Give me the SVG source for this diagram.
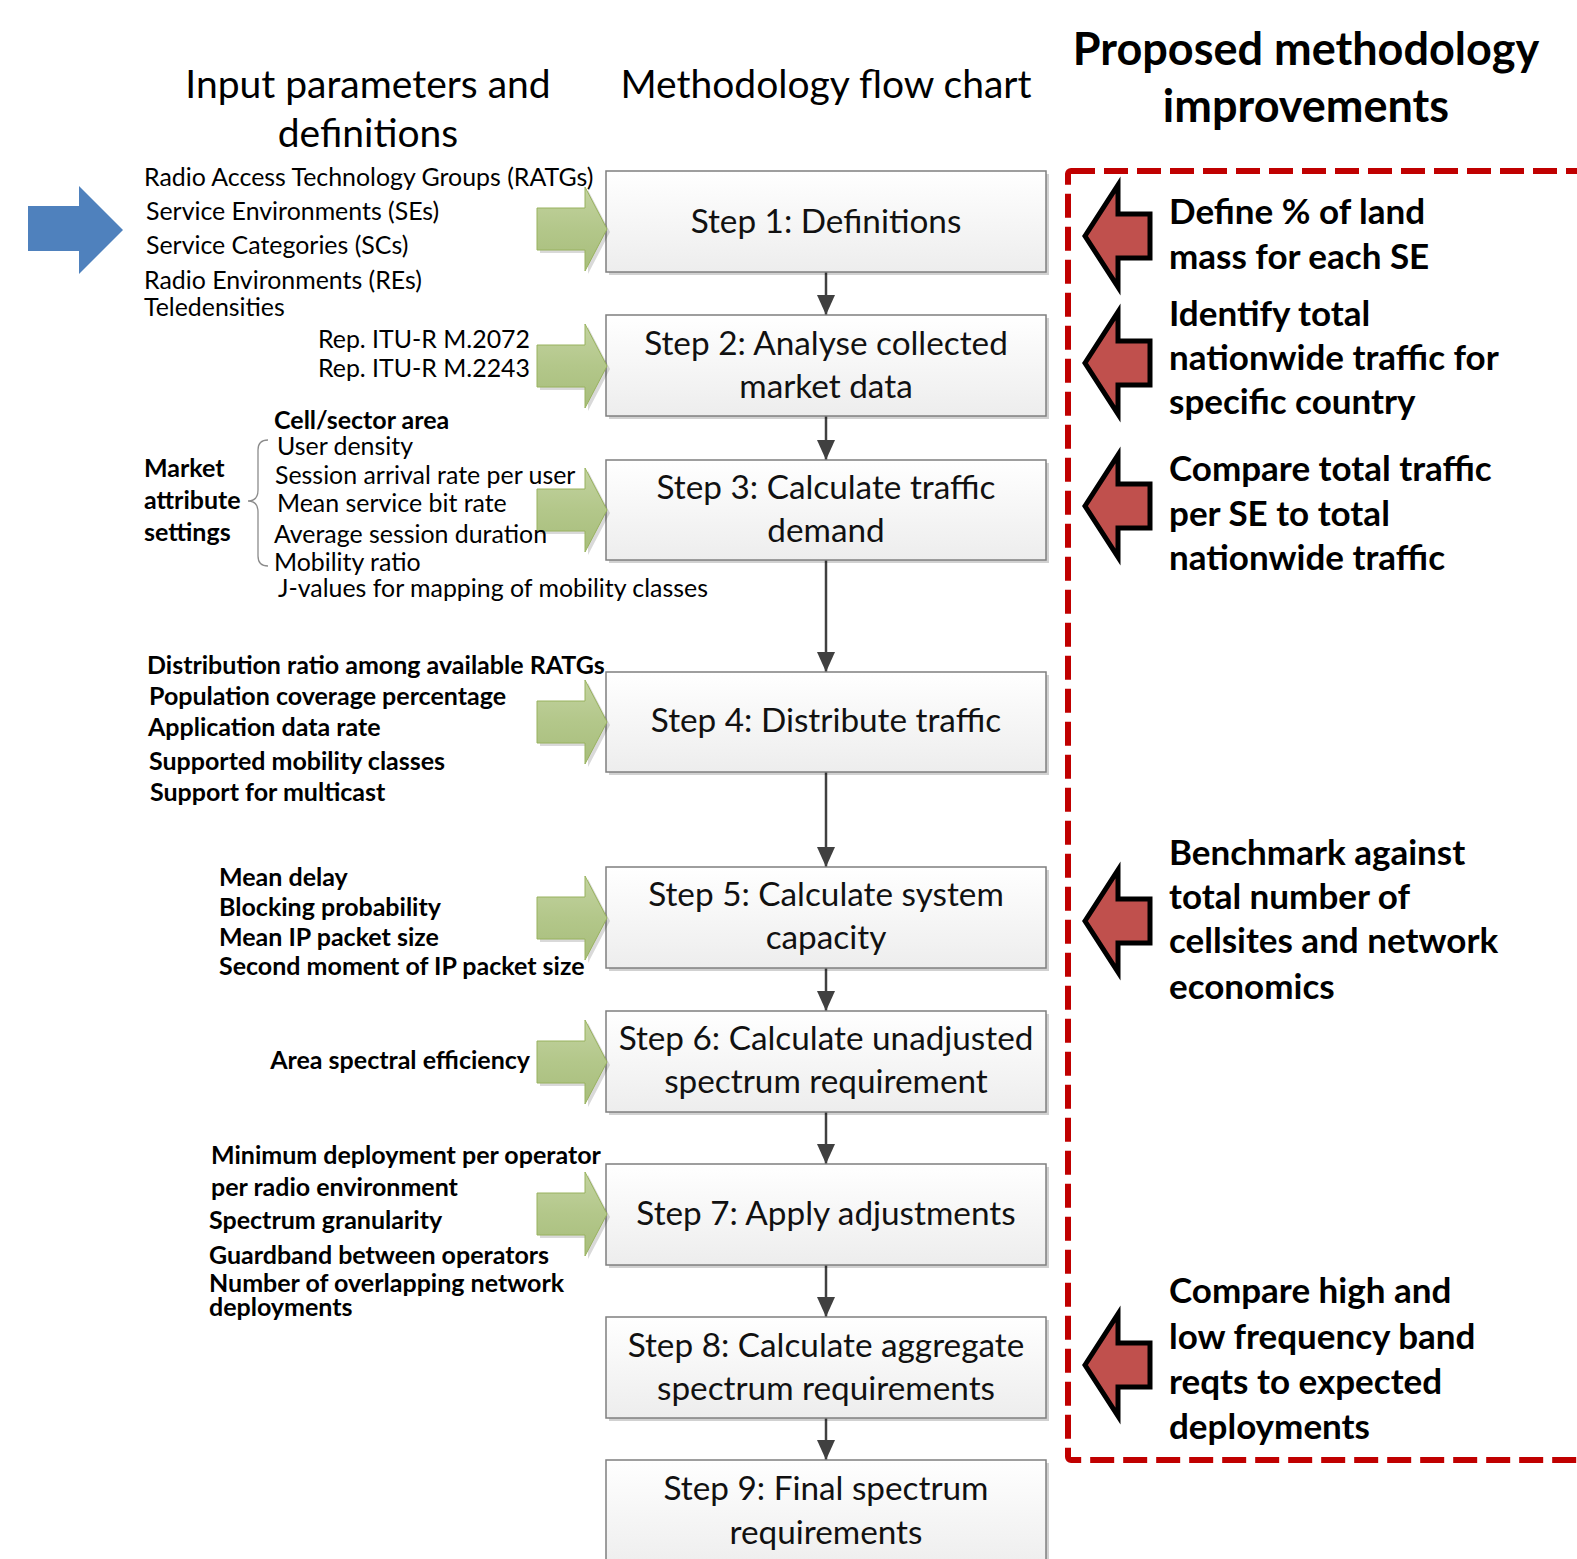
<svg xmlns="http://www.w3.org/2000/svg" xmlns:xlink="http://www.w3.org/1999/xlink" width="1577" height="1559" viewBox="0 0 1577 1559">
<style>
.t{font-family:Lato,"Liberation Sans",sans-serif;fill:#000}
.title{font-size:39px;text-anchor:middle}
.btitle{font-size:45px;font-weight:bold;text-anchor:middle}
.step{font-size:33.3px;text-anchor:middle;fill:#111}
.sm{font-size:24.9px}
.smb{font-size:25px;font-weight:bold}
.rb{font-size:35px;font-weight:bold}
.box{fill:url(#boxg);stroke:#7f7f7f;stroke-width:1.5}
.shadow{fill:#000;opacity:0.18}
.conn{stroke:#404040;stroke-width:2.5;fill:none}
.garrow{fill:url(#greeng);stroke:#98b25e;stroke-width:1}
.gshadow{fill:#000;opacity:0.15}
.rarrow{fill:#C0504D;stroke:#000;stroke-width:5;stroke-linejoin:miter}
</style>
<defs>
<linearGradient id="boxg" x1="0" y1="0" x2="0" y2="1">
<stop offset="0" stop-color="#ffffff"/>
<stop offset="1" stop-color="#ededed"/>
</linearGradient>
<linearGradient id="greeng" x1="0" y1="0" x2="0" y2="1">
<stop offset="0" stop-color="#c3d3a0"/>
<stop offset="0.5" stop-color="#b3c78a"/>
<stop offset="1" stop-color="#a7bd7b"/>
</linearGradient>
<marker id="ah" markerUnits="userSpaceOnUse" viewBox="0 0 20 18" markerWidth="20" markerHeight="18" refX="20" refY="9" orient="auto">
<path d="M0,0 L20,9 L0,18 Z" fill="#404040"/>
</marker>
<path id="ga" d="M537,-21 L585,-21 L585,-42 L607,0 L585,42 L585,21 L537,21 Z"/>
<path id="ra" d="M1085,0 L1118,-51 L1118,-22 L1150,-22 L1150,22 L1118,22 L1118,51 Z"/>
</defs>

<g id="titles">
<text class="t title" x="368" y="98">Input parameters and</text>
<text class="t title" x="368" y="147">definitions</text>
<text class="t title" x="826" y="98">Methodology flow chart</text>
<text class="t btitle" x="1306" y="65">Proposed methodology</text>
<text class="t btitle" x="1306" y="122">improvements</text>
</g>

<g id="blue-arrow">
<path d="M28,206 L79,206 L79,186 L123,230 L79,274 L79,251 L28,251 Z" fill="#4F81BD"/>
</g>

<g id="connectors">
<line class="conn" x1="826" y1="272" x2="826" y2="315" marker-end="url(#ah)"/>
<line class="conn" x1="826" y1="416" x2="826" y2="460" marker-end="url(#ah)"/>
<line class="conn" x1="826" y1="560" x2="826" y2="672" marker-end="url(#ah)"/>
<line class="conn" x1="826" y1="772" x2="826" y2="867" marker-end="url(#ah)"/>
<line class="conn" x1="826" y1="968" x2="826" y2="1011" marker-end="url(#ah)"/>
<line class="conn" x1="826" y1="1112" x2="826" y2="1164" marker-end="url(#ah)"/>
<line class="conn" x1="826" y1="1265" x2="826" y2="1317" marker-end="url(#ah)"/>
<line class="conn" x1="826" y1="1418" x2="826" y2="1460" marker-end="url(#ah)"/>
</g>

<g id="step1">
<rect class="shadow" x="609" y="174" width="440" height="101"/>
<rect class="box" x="606" y="171" width="440" height="101"/>
<text class="t step" x="826" y="233">Step 1: Definitions</text>
</g>
<g id="step2">
<rect class="shadow" x="609" y="318" width="440" height="101"/>
<rect class="box" x="606" y="315" width="440" height="101"/>
<text class="t step" x="826" y="355">Step 2: Analyse collected</text>
<text class="t step" x="826" y="398">market data</text>
</g>
<g id="step3">
<rect class="shadow" x="609" y="463" width="440" height="100"/>
<rect class="box" x="606" y="460" width="440" height="100"/>
<text class="t step" x="826" y="499">Step 3: Calculate traffic</text>
<text class="t step" x="826" y="542">demand</text>
</g>
<g id="step4">
<rect class="shadow" x="609" y="675" width="440" height="100"/>
<rect class="box" x="606" y="672" width="440" height="100"/>
<text class="t step" x="826" y="732">Step 4: Distribute traffic</text>
</g>
<g id="step5">
<rect class="shadow" x="609" y="870" width="440" height="101"/>
<rect class="box" x="606" y="867" width="440" height="101"/>
<text class="t step" x="826" y="906">Step 5: Calculate system</text>
<text class="t step" x="826" y="949">capacity</text>
</g>
<g id="step6">
<rect class="shadow" x="609" y="1014" width="440" height="101"/>
<rect class="box" x="606" y="1011" width="440" height="101"/>
<text class="t step" x="826" y="1050">Step 6: Calculate unadjusted</text>
<text class="t step" x="826" y="1093">spectrum requirement</text>
</g>
<g id="step7">
<rect class="shadow" x="609" y="1167" width="440" height="101"/>
<rect class="box" x="606" y="1164" width="440" height="101"/>
<text class="t step" x="826" y="1225">Step 7: Apply adjustments</text>
</g>
<g id="step8">
<rect class="shadow" x="609" y="1320" width="440" height="101"/>
<rect class="box" x="606" y="1317" width="440" height="101"/>
<text class="t step" x="826" y="1357">Step 8: Calculate aggregate</text>
<text class="t step" x="826" y="1400">spectrum requirements</text>
</g>
<g id="step9">
<rect class="shadow" x="609" y="1463" width="440" height="110"/>
<rect class="box" x="606" y="1460" width="440" height="110"/>
<text class="t step" x="826" y="1500">Step 9: Final spectrum</text>
<text class="t step" x="826" y="1544">requirements</text>
</g>

<g id="green-arrows">
<use href="#ga" class="gshadow" x="3" y="232"/>
<use href="#ga" class="garrow" y="229"/>
<use href="#ga" class="gshadow" x="3" y="369"/>
<use href="#ga" class="garrow" y="366"/>
<use href="#ga" class="gshadow" x="3" y="513"/>
<use href="#ga" class="garrow" y="510"/>
<use href="#ga" class="gshadow" x="3" y="725"/>
<use href="#ga" class="garrow" y="722"/>
<use href="#ga" class="gshadow" x="3" y="921"/>
<use href="#ga" class="garrow" y="918"/>
<use href="#ga" class="gshadow" x="3" y="1065"/>
<use href="#ga" class="garrow" y="1062"/>
<use href="#ga" class="gshadow" x="3" y="1217"/>
<use href="#ga" class="garrow" y="1214"/>
</g>

<g id="inputs1">
<text class="t sm" x="144" y="186">Radio Access Technology Groups (RATGs)</text>
<text class="t sm" x="146" y="220">Service Environments (SEs)</text>
<text class="t sm" x="146" y="254">Service Categories (SCs)</text>
<text class="t sm" x="144" y="289">Radio Environments (REs)</text>
<text class="t sm" x="144" y="316">Teledensities</text>
</g>
<g id="inputs2">
<text class="t sm" x="530" y="348" text-anchor="end">Rep. ITU-R M.2072</text>
<text class="t sm" x="530" y="377" text-anchor="end">Rep. ITU-R M.2243</text>
</g>
<g id="inputs3">
<text class="t smb" x="274" y="429">Cell/sector area</text>
<text class="t sm" x="277" y="455">User density</text>
<text class="t sm" x="275" y="484">Session arrival rate per user</text>
<text class="t sm" x="277" y="512">Mean service bit rate</text>
<text class="t sm" x="274" y="543">Average session duration</text>
<text class="t sm" x="274" y="571">Mobility ratio</text>
<text class="t sm" x="278" y="597">J-values for mapping of mobility classes</text>
<text class="t smb" x="144" y="477">Market</text>
<text class="t smb" x="144" y="509">attribute</text>
<text class="t smb" x="144" y="541">settings</text>
<path d="M268,440 Q258,440 258,450 L258,490 Q258,501 248,501 Q258,501 258,512 L258,556 Q258,566 268,566" fill="none" stroke="#8c8c8c" stroke-width="1.3"/>
</g>
<g id="inputs4">
<text class="t smb" x="147" y="674">Distribution ratio among available RATGs</text>
<text class="t smb" x="149" y="705">Population coverage percentage</text>
<text class="t smb" x="148" y="736">Application data rate</text>
<text class="t smb" x="149" y="770">Supported mobility classes</text>
<text class="t smb" x="150" y="801">Support for multicast</text>
</g>
<g id="inputs5">
<text class="t smb" x="219" y="886">Mean delay</text>
<text class="t smb" x="219" y="916">Blocking probability</text>
<text class="t smb" x="219" y="946">Mean IP packet size</text>
<text class="t smb" x="219" y="975">Second moment of IP packet size</text>
</g>
<g id="inputs6">
<text class="t smb" x="530" y="1069" text-anchor="end">Area spectral efficiency</text>
</g>
<g id="inputs7">
<text class="t smb" x="211" y="1164">Minimum deployment per operator</text>
<text class="t smb" x="211" y="1196">per radio environment</text>
<text class="t smb" x="209" y="1229">Spectrum granularity</text>
<text class="t smb" x="209" y="1264">Guardband between operators</text>
<text class="t smb" x="209" y="1292">Number of overlapping network</text>
<text class="t smb" x="209" y="1316">deployments</text>
</g>

<g id="improvements">
<rect x="1068" y="171" width="520" height="1289" rx="3" fill="none" stroke="#C00000" stroke-width="6" stroke-dasharray="24 9"/>
<use href="#ra" class="rarrow" y="236"/>
<use href="#ra" class="rarrow" y="363"/>
<use href="#ra" class="rarrow" y="506"/>
<use href="#ra" class="rarrow" y="921"/>
<use href="#ra" class="rarrow" y="1365"/>
<text class="t rb" x="1169" y="224">Define % of land</text>
<text class="t rb" x="1169" y="269">mass for each SE</text>
<text class="t rb" x="1169" y="326">Identify total</text>
<text class="t rb" x="1169" y="370">nationwide traffic for</text>
<text class="t rb" x="1169" y="414">specific country</text>
<text class="t rb" x="1169" y="481">Compare total traffic</text>
<text class="t rb" x="1169" y="526">per SE to total</text>
<text class="t rb" x="1169" y="570">nationwide traffic</text>
<text class="t rb" x="1169" y="865">Benchmark against</text>
<text class="t rb" x="1169" y="909">total number of</text>
<text class="t rb" x="1169" y="953">cellsites and network</text>
<text class="t rb" x="1169" y="999">economics</text>
<text class="t rb" x="1169" y="1303">Compare high and</text>
<text class="t rb" x="1169" y="1349">low frequency band</text>
<text class="t rb" x="1169" y="1394">reqts to expected</text>
<text class="t rb" x="1169" y="1439">deployments</text>
</g>
</svg>
